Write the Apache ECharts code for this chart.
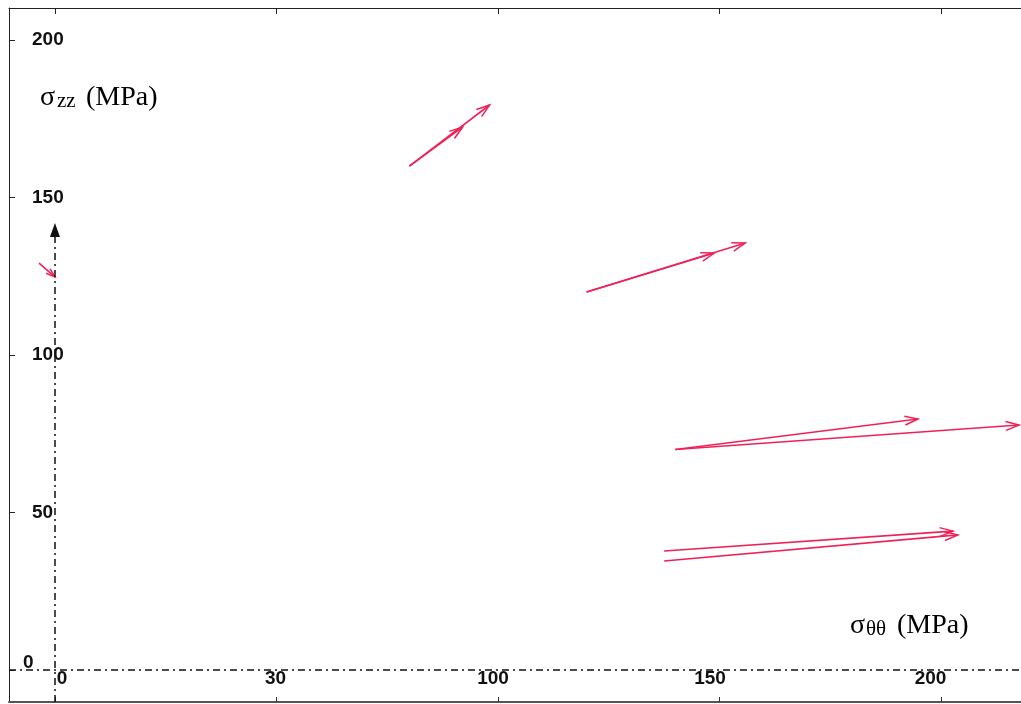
<!DOCTYPE html>
<html>
<head>
<meta charset="utf-8">
<script src="https://cdn.jsdelivr.net/npm/echarts@6/dist/echarts.min.js"></script>
<style>
html, body { margin: 0; padding: 0; background: #fff; }
#chart { width: 1021px; height: 704px; }
</style>
</head>
<body>
<div id="chart"></div>
<script>
// stress vectors: start / end (MPa)
var xStart = [80, 80, 120, 120, 140, 140, 137.5, 137.5, -3.6];
var yStart = [160, 160, 120, 120, 70, 70, 37.8, 34.6, 129.2];
var xEnd = [98.1, 92.0, 155.8, 148.8, 194.8, 217.6, 202.7, 203.8, 0];
var yEnd = [179.4, 172.4, 135.6, 132.4, 79.7, 77.8, 44.1, 42.9, 124.8];

var xTicks = [0, 50, 100, 150, 200];
var xTickText = ['0', '30', '100', '150', '200'];
var yTicks = [0, 50, 100, 150, 200];

var xMin = -10.37, xMax = 218.04;
var yMin = -10.16, yMax = 210.2;
var arrowTop = 139.7;   // y-axis arrow

var red = '#ee2258';
var tickFont = { fontFamily: 'Liberation Sans', fontWeight: 'bold', fontSize: 19, color: '#111' };

var vectors = xStart.map(function (x, i) {
  return [x, yStart[i], xEnd[i], yEnd[i]];
});

function renderArrow(params, api) {
  var p0 = api.coord([api.value(0), api.value(1)]);
  var p1 = api.coord([api.value(2), api.value(3)]);
  var dx = p1[0] - p0[0], dy = p1[1] - p0[1];
  var ang = Math.atan2(dy, dx);
  var len = Math.min(14, Math.sqrt(dx * dx + dy * dy) * 0.45);
  var s = 0.32;
  var a = [p1[0] - len * Math.cos(ang - s), p1[1] - len * Math.sin(ang - s)];
  var b = [p1[0] - len * Math.cos(ang + s), p1[1] - len * Math.sin(ang + s)];
  return {
    type: 'group',
    children: [
      { type: 'line', shape: { x1: p0[0], y1: p0[1], x2: p1[0], y2: p1[1] },
        style: { stroke: red, lineWidth: 1.6 } },
      { type: 'polyline', shape: { points: [a, p1, b] },
        style: { stroke: red, fill: null, lineWidth: 1.5 } }
    ]
  };
}

// per-label nudges, like the scanned original
var xRich = {
  l0: Object.assign({ padding: [0, 0, 0, 14] }, tickFont),
  l1: Object.assign({ padding: [0, 2, 0, 0] }, tickFont),
  l2: Object.assign({ padding: [0, 10, 0, 0] }, tickFont),
  l3: Object.assign({ padding: [0, 19, 0, 0] }, tickFont),
  l4: Object.assign({ padding: [0, 21, 0, 0] }, tickFont)
};
var yRich = {
  z: Object.assign({ padding: [0, 0, 14, 0] }, tickFont),
  n: Object.assign({ padding: [0, 0, 0, 9] }, tickFont)
};

var chart = echarts.init(document.getElementById('chart'));
chart.setOption({
  animation: false,
  backgroundColor: '#fff',
  grid: { left: 9, top: 8, width: 1013, height: 694 },
  xAxis: [
    {
      type: 'value', position: 'bottom', min: xMin, max: xMax,
      axisLine: { onZero: false, lineStyle: { color: '#555', width: 2 } },
      axisTick: { inside: true, length: 5, customValues: xTicks, lineStyle: { color: '#333' } },
      axisLabel: {
        inside: true, margin: 14, customValues: xTicks,
        formatter: function (v) {
          var i = xTicks.indexOf(v);
          return '{l' + i + '|' + xTickText[i] + '}';
        },
        rich: xRich
      },
      splitLine: { show: false }
    },
    {
      type: 'value', position: 'top', min: xMin, max: xMax,
      axisLine: { onZero: false, lineStyle: { color: '#222', width: 1 } },
      axisTick: { inside: true, length: 6, customValues: xTicks, lineStyle: { color: '#222' } },
      axisLabel: { show: false },
      splitLine: { show: false }
    }
  ],
  yAxis: {
    type: 'value', position: 'left', min: yMin, max: yMax,
    axisLine: { onZero: false, lineStyle: { color: '#222', width: 1 } },
    axisTick: { inside: true, length: 6, customValues: yTicks, lineStyle: { color: '#222' } },
    axisLabel: {
      inside: true, margin: 14, customValues: yTicks,
      formatter: function (v) {
        return v === 0 ? '{z|0}' : '{n|' + v + '}';
      },
      rich: yRich
    },
    splitLine: { show: false }
  },
  series: [
    {
      type: 'line', data: [], xAxisIndex: 0, yAxisIndex: 0,
      markLine: {
        silent: true, symbol: 'none',
        label: { show: false },
        lineStyle: { color: '#111', width: 1.5, type: [7, 4, 2, 4] },
        data: [
          { yAxis: 0 },
          [
            { coord: [0, yMin], symbol: 'none' },
            { coord: [0, arrowTop], symbol: 'triangle', symbolSize: [10, 14] }
          ]
        ]
      }
    },
    {
      type: 'custom', xAxisIndex: 0, yAxisIndex: 0,
      renderItem: renderArrow,
      encode: { x: [0, 2], y: [1, 3] },
      data: vectors
    }
  ],
  graphic: [
    { type: 'text', x: 40, y: 98, style: { text: 'σ', font: '28px "Liberation Serif"', fill: '#000', verticalAlign: 'middle' } },
    { type: 'text', x: 57, y: 101, style: { text: 'zz', font: '21px "Liberation Serif"', fill: '#000', verticalAlign: 'middle' } },
    { type: 'text', x: 86, y: 98, style: { text: '(MPa)', font: '28px "Liberation Serif"', fill: '#000', verticalAlign: 'middle' } },
    { type: 'text', x: 850, y: 626, style: { text: 'σ', font: '28px "Liberation Serif"', fill: '#000', verticalAlign: 'middle' } },
    { type: 'text', x: 866, y: 629, style: { text: 'θθ', font: '21px "Liberation Serif"', fill: '#000', verticalAlign: 'middle' } },
    { type: 'text', x: 897, y: 626, style: { text: '(MPa)', font: '28px "Liberation Serif"', fill: '#000', verticalAlign: 'middle' } }
  ]
});
</script>
</body>
</html>
